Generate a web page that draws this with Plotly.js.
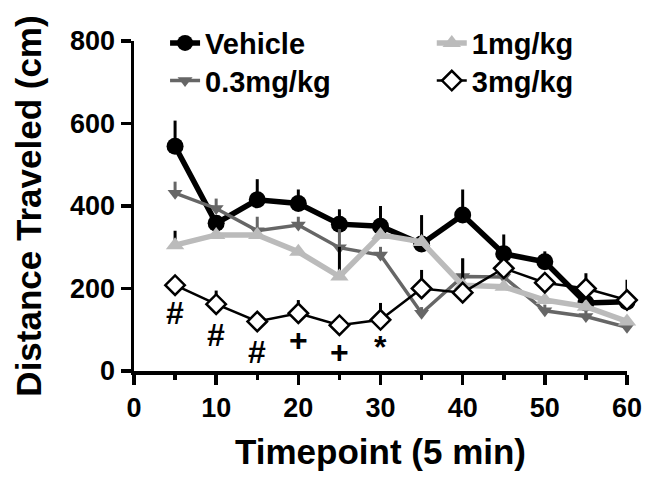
<!DOCTYPE html>
<html>
<head>
<meta charset="utf-8">
<script src="https://cdn.plot.ly/plotly-3.0.1.min.js"></script>
<style>html,body{margin:0;padding:0;background:#fff;}#chart{width:650px;height:484px;}</style>
</head>
<body>
<div id="chart"></div>
<script>
const timepoints = [5, 10, 15, 20, 25, 30, 35, 40, 45, 50, 55, 60];
const vehicle    = [545, 358, 415, 406, 356, 351, 308, 378, 284, 265, 165, 168];
const vehicleErr = [62, 20, 50, 34, 36, 49, 70, 62, 47, 25, 30, 53];
const dose03     = [431, 394, 340, 354, 299, 281, 140, 229, 228, 146, 132, 106];
const dose03Err  = [28, 24, 34, 20, 45, 20, 15, 44, 20, 15, 15, 10];
const dose1      = [305, 330, 330, 289, 229, 330, 313, 208, 204, 172, 156, 120];
const dose1Err   = [35, 0, 0, 0, 72, 10, 20, 65, 0, 0, 10, 0];
const dose3      = [208, 162, 120, 140, 111, 124, 200, 190, 249, 214, 200, 172];
const dose3Err   = [10, 33, 10, 32, 10, 41, 45, 20, 30, 20, 37, 20];
const seriesNames = ['Vehicle', '0.3mg/kg', '1mg/kg', '3mg/kg'];
const sigX    = [5, 10, 15, 20, 25, 30];
const sigY    = [141, 87, 46, 75, 46, 58];
const sigText = ['#', '#', '#', '+', '+', '*'];
const xTicks = [0, 10, 20, 30, 40, 50, 60];
const yTicks = [0, 200, 400, 600, 800];

const FONT = 'Liberation Sans, Arial, Helvetica, sans-serif';
function errs(a, color){
  return {type:'data', symmetric:false, array:a, arrayminus:a.map(()=>0), color:color, thickness:3, width:0};
}
const traces = [
  {x:timepoints, y:vehicle, name:seriesNames[0], mode:'lines+markers', legend:'legend',
   line:{color:'#000', width:5.5}, marker:{symbol:'circle', size:17, color:'#000'},
   error_y:errs(vehicleErr,'#000'), cliponaxis:false},
  {x:timepoints, y:dose03, name:seriesNames[1], mode:'lines+markers', legend:'legend2',
   line:{color:'#666', width:3.5}, marker:{symbol:'triangle-down', size:13, color:'#666'},
   error_y:errs(dose03Err,'#666'), cliponaxis:false},
  {x:timepoints, y:dose1, name:seriesNames[2], mode:'lines+markers', legend:'legend3',
   line:{color:'#bbb', width:5.5}, marker:{symbol:'triangle-up', size:16, color:'#bbb'},
   error_y:errs(dose1Err,'#000'), cliponaxis:false},
  {x:timepoints, y:dose3, name:seriesNames[3], mode:'lines+markers', legend:'legend4',
   line:{color:'#000', width:2.5}, marker:{symbol:'diamond', size:15, color:'#fff', line:{color:'#000', width:2.5}},
   error_y:errs(dose3Err,'#000'), cliponaxis:false}
];
const legFont = {family:FONT, size:29, color:'#000', weight:'bold'};
const axFont = {family:FONT, size:27, color:'#000', weight:'bold'};
const titleFont = {family:FONT, size:35, color:'#000', weight:'bold'};
function leg(x, y){
  return {x:x, y:y, xanchor:'left', yanchor:'top', font:legFont, bgcolor:'rgba(0,0,0,0)', itemwidth:30};
}
const layout = {
  width:650, height:484,
  margin:{l:134, r:23, t:41, b:113},
  paper_bgcolor:'#fff', plot_bgcolor:'#fff',
  showlegend:true,
  font:{family:FONT, color:'#000'},
  legend:leg(0.063, 1.071),
  legend2:leg(0.063, 0.957),
  legend3:leg(0.604, 1.071),
  legend4:leg(0.604, 0.957),
  xaxis:{range:[0,60], tickvals:xTicks, ticktext:xTicks.map(String), showgrid:false, zeroline:false,
    showline:true, linecolor:'#000', linewidth:3.5, ticks:'outside', ticklen:10, tickwidth:3.5, tickcolor:'#000',
    minor:{tick0:0, dtick:5, ticks:'outside', ticklen:5, tickwidth:3.5, tickcolor:'#000', showgrid:false},
    tickfont:axFont,
    title:{text:'Timepoint (5 min)', font:titleFont, standoff:18}},
  yaxis:{range:[0,800], tickvals:yTicks, ticktext:yTicks.map(String), showgrid:false, zeroline:false,
    showline:true, linecolor:'#000', linewidth:3.5, ticks:'outside', ticklen:10, tickwidth:3.5, tickcolor:'#000',
    tickfont:axFont,
    title:{text:'Distance Traveled (cm)', font:titleFont, standoff:19}},
  annotations: sigX.map((x,i)=>({x:x, y:sigY[i], xref:'x', yref:'y', text:sigText[i], showarrow:false,
    font:{family:FONT, size:32, color:'#000', weight:'bold'}}))
};
Plotly.newPlot('chart', traces, layout, {displayModeBar:false, staticPlot:true});
</script>
</body>
</html>
